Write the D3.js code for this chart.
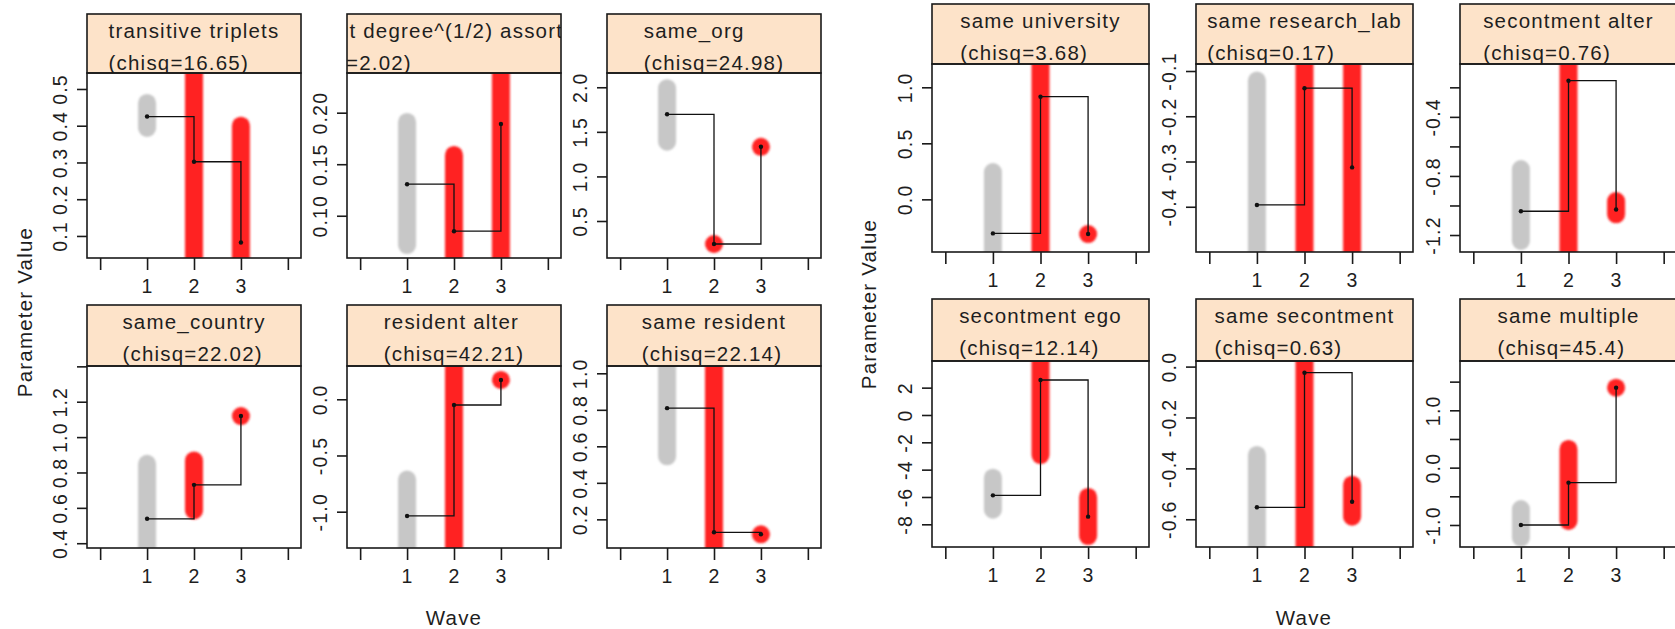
<!DOCTYPE html>
<html>
<head>
<meta charset="utf-8">
<script src="https://cdn.jsdelivr.net/npm/d3@7/dist/d3.min.js"></script>
<style>
body { margin: 0; background: #fff; }
text { font-family: "Liberation Sans", Arial, sans-serif; fill: #1e1e1e; letter-spacing: 1.2px; }
</style>
</head>
<body>
<svg id="chart" width="1675" height="629"></svg>
<script>
var panelNames = ['transitive triplets', 'out-out degree^(1/2) assortativity', 'same_org',
    'same_country', 'resident alter', 'same resident',
    'same university', 'same research_lab', 'secontment alter',
    'secontment ego', 'same secontment', 'same multiple'];
var chisq = ['16.65', '2.02', '24.98', '22.02', '42.21', '22.14',
    '3.68', '0.17', '0.76', '12.14', '0.63', '45.4'];

var waves = [1, 2, 3];

// mean estimate per wave (step line)
var waveMeans = [
    [0.425, 0.302, 0.082],
    [0.1306, 0.085, 0.189],
    [1.697, 0.242, 1.332],
    [0.538, 0.730, 1.119],
    [-1.038, -0.051, 0.172],
    [0.809, 0.129, 0.118],
    [-0.304, 0.916, -0.31],
    [-0.396, -0.138, -0.313],
    [-1.039, -0.155, -1.027],
    [-5.88, 2.56, -7.44],
    [-0.553, -0.024, -0.531],
    [-1.0, -0.262, 1.395]
];

// spread of the estimates per wave
var rangeLow = [
    [0.394, -1, -1],
    [0.0716, -1, -1],
    [1.39, 0.242, 1.332],
    [0, 0.585, 1.119],
    [-3, -3, 0.172],
    [0.545, -1, 0.118],
    [-1, -1, -0.31],
    [-1, -1, -1],
    [-1.24, -2, -1.06],
    [-6.93, -2.93, -8.86],
    [-1, -1, -0.59],
    [-1.22, -0.93, 1.395]
];
var rangeHigh = [
    [0.462, 1, 0.40],
    [0.191, 0.159, 1],
    [1.99, 0.242, 1.332],
    [0.849, 0.868, 1.119],
    [-0.714, 1, 0.172],
    [2, 2, 0.118],
    [0.244, 2, -0.31],
    [-0.121, 0, 0],
    [-0.753, 0, -0.97],
    [-4.59, 10, -6.0],
    [-0.347, 1, -0.464],
    [-0.722, 0.327, 1.395]
];

var yDomains = [
    [0.040, 0.5435], [0.059, 0.2385], [0.085, 2.16],
    [0.373, 1.402], [-1.323, 0.296], [0.043, 1.04],
    [-0.47, 1.208], [-0.5, -0.0845], [-1.315, -0.042],
    [-9.66, 3.95], [-0.709, 0.022], [-1.384, 1.86]
];
var yTicks = [
    [0.1, 0.2, 0.3, 0.4, 0.5], [0.10, 0.15, 0.20], [0.5, 1.0, 1.5, 2.0],
    [0.4, 0.6, 0.8, 1.0, 1.2, 1.4], [-1.0, -0.5, 0.0], [0.2, 0.4, 0.6, 0.8, 1.0],
    [0.0, 0.5, 1.0], [-0.4, -0.3, -0.2, -0.1], [-1.2, -1.0, -0.8, -0.6, -0.4, -0.2],
    [-8, -6, -4, -2, 0, 2], [-0.6, -0.4, -0.2, 0.0], [-1.0, -0.5, 0.0, 0.5, 1.0, 1.5]
];
var yTickLabels = [
    ['0.1', '0.2', '0.3', '0.4', '0.5'], ['0.10', '0.15', '0.20'], ['0.5', '1.0', '1.5', '2.0'],
    ['0.4', '0.6', '0.8', '1.0', '1.2', ''], ['-1.0', '-0.5', '0.0'], ['0.2', '0.4', '0.6', '0.8', '1.0'],
    ['0.0', '0.5', '1.0'], ['-0.4', '-0.3', '-0.2', '-0.1'], ['-1.2', '', '-0.8', '', '-0.4', ''],
    ['-8', '-6', '-4', '-2', '0', '2'], ['-0.6', '-0.4', '-0.2', '0.0'], ['-1.0', '', '0.0', '', '1.0', '']
];
var xTicks = [0, 1, 2, 3, 4];

// two figures side by side, each 3 x 2 panels
var figures = [
    { colLeft: [87, 347, 607], width: 214, headTop: [14, 305], plotTop: [73, 366], plotBottom: [258, 548],
      ylabX: 25, ylabY: 312, xlabX: 454 },
    { colLeft: [932, 1196, 1460], width: 217, headTop: [4, 299], plotTop: [64, 361], plotBottom: [252, 547],
      ylabX: 869, ylabY: 304, xlabX: 1304 }
];

var grey = '#c7c7c7';
var red = '#ff2424';
var headFill = '#fde3c9';
var colRadius = 9;

var svg = d3.select('#chart');

svg.append('defs')
    .append('filter')
    .attr('id', 'soft')
    .attr('x', '-50%').attr('y', '-50%').attr('width', '200%').attr('height', '200%')
    .append('feGaussianBlur')
    .attr('stdDeviation', 1.1);

function drawPanel(p) {
    var fig = figures[Math.floor(p / 6)];
    var k = p % 6;
    var row = Math.floor(k / 3);
    var col = k % 3;

    var left = fig.colLeft[col];
    var right = left + fig.width;
    var headTop = fig.headTop[row];
    var top = fig.plotTop[row];
    var bottom = fig.plotBottom[row];

    var x = d3.scaleLinear().domain([-0.28, 4.28]).range([left, right]);
    var y = d3.scaleLinear().domain(yDomains[p]).range([bottom, top]);

    var g = svg.append('g').attr('class', 'panel');

    var clipId = 'clip' + p;
    g.append('clipPath').attr('id', clipId)
        .append('rect')
        .attr('x', left).attr('y', top)
        .attr('width', right - left).attr('height', bottom - top);

    var headClip = 'head' + p;
    g.append('clipPath').attr('id', headClip)
        .append('rect')
        .attr('x', left).attr('y', headTop)
        .attr('width', right - left).attr('height', top - headTop);

    // header strip
    g.append('rect')
        .attr('x', left).attr('y', headTop)
        .attr('width', right - left).attr('height', top - headTop)
        .attr('fill', headFill);

    var head = g.append('g').attr('clip-path', 'url(#' + headClip + ')');
    var line1 = head.append('text')
        .attr('y', headTop + 24)
        .style('font-size', '20.5px')
        .text(panelNames[p]);
    var line2 = head.append('text')
        .attr('y', headTop + 56)
        .style('font-size', '20.5px')
        .text('(chisq=' + chisq[p] + ')');
    var w = Math.max(line1.node().getComputedTextLength(), line2.node().getComputedTextLength());
    var tx = (left + right) / 2 - w / 2;
    line1.attr('x', tx);
    line2.attr('x', tx);

    // spread columns
    var cols = waves.map(function(wv, i) {
        return { wave: wv, lo: rangeLow[p][i], hi: rangeHigh[p][i], colour: i === 0 ? grey : red };
    });

    g.append('g')
        .attr('clip-path', 'url(#' + clipId + ')')
        .selectAll('rect.spread')
        .data(cols)
        .join('rect')
        .classed('spread', true)
        .attr('x', function(d) { return x(d.wave) - colRadius; })
        .attr('y', function(d) { return y(d.hi) - colRadius; })
        .attr('width', colRadius * 2)
        .attr('height', function(d) { return y(d.lo) - y(d.hi) + colRadius * 2; })
        .attr('rx', colRadius)
        .attr('fill', function(d) { return d.colour; })
        .attr('filter', 'url(#soft)');

    // step line through the means
    var means = waves.map(function(wv, i) { return [wv, waveMeans[p][i]]; });
    var step = d3.line()
        .x(function(d) { return x(d[0]); })
        .y(function(d) { return y(d[1]); })
        .curve(d3.curveStepAfter);

    g.append('path')
        .attr('d', step(means))
        .attr('fill', 'none')
        .attr('stroke', '#111')
        .attr('stroke-width', 1.3);

    g.selectAll('circle.mean')
        .data(means)
        .join('circle')
        .classed('mean', true)
        .attr('cx', function(d) { return x(d[0]); })
        .attr('cy', function(d) { return y(d[1]); })
        .attr('r', 2.2)
        .attr('fill', '#111');

    // frames
    g.append('rect')
        .attr('x', left).attr('y', headTop)
        .attr('width', right - left).attr('height', top - headTop)
        .attr('fill', 'none').attr('stroke', '#1a1a1a').attr('stroke-width', 1.6);
    g.append('rect')
        .attr('x', left).attr('y', top)
        .attr('width', right - left).attr('height', bottom - top)
        .attr('fill', 'none').attr('stroke', '#1a1a1a').attr('stroke-width', 1.6);

    // axes
    var xAxis = d3.axisBottom(x)
        .tickValues(xTicks)
        .tickSize(12)
        .tickPadding(9)
        .tickFormat(function(d) { return (d >= 1 && d <= 3) ? d : ''; });

    var xg = g.append('g')
        .attr('transform', 'translate(0,' + bottom + ')')
        .call(xAxis);
    xg.select('.domain').remove();
    xg.selectAll('line').attr('stroke', '#1a1a1a').attr('stroke-width', 1.6);
    xg.selectAll('text')
        .attr('fill', '#1e1e1e')
        .style('font-family', '"Liberation Sans", Arial, sans-serif')
        .style('font-size', '19.5px');

    var labels = yTickLabels[p];
    var yAxis = d3.axisLeft(y)
        .tickValues(yTicks[p])
        .tickSize(10)
        .tickFormat(function(d, i) { return labels[i]; });

    var yg = g.append('g')
        .attr('transform', 'translate(' + left + ',0)')
        .call(yAxis);
    yg.select('.domain').remove();
    yg.selectAll('line').attr('stroke', '#1a1a1a').attr('stroke-width', 1.6);
    yg.selectAll('text')
        .attr('x', 0)
        .attr('dy', '0.36em')
        .attr('text-anchor', 'middle')
        .attr('transform', 'translate(-27,0) rotate(-90)')
        .attr('fill', '#1e1e1e')
        .style('font-family', '"Liberation Sans", Arial, sans-serif')
        .style('font-size', '19.5px');
}

d3.range(panelNames.length).forEach(drawPanel);

figures.forEach(function(fig) {
    svg.append('text')
        .attr('transform', 'translate(' + fig.ylabX + ',' + fig.ylabY + ') rotate(-90)')
        .attr('text-anchor', 'middle')
        .attr('dy', '0.36em')
        .style('font-size', '20.5px')
        .text('Parameter Value');

    svg.append('text')
        .attr('x', fig.xlabX)
        .attr('y', 625)
        .attr('text-anchor', 'middle')
        .style('font-size', '20.5px')
        .text('Wave');
});
</script>
</body>
</html>
